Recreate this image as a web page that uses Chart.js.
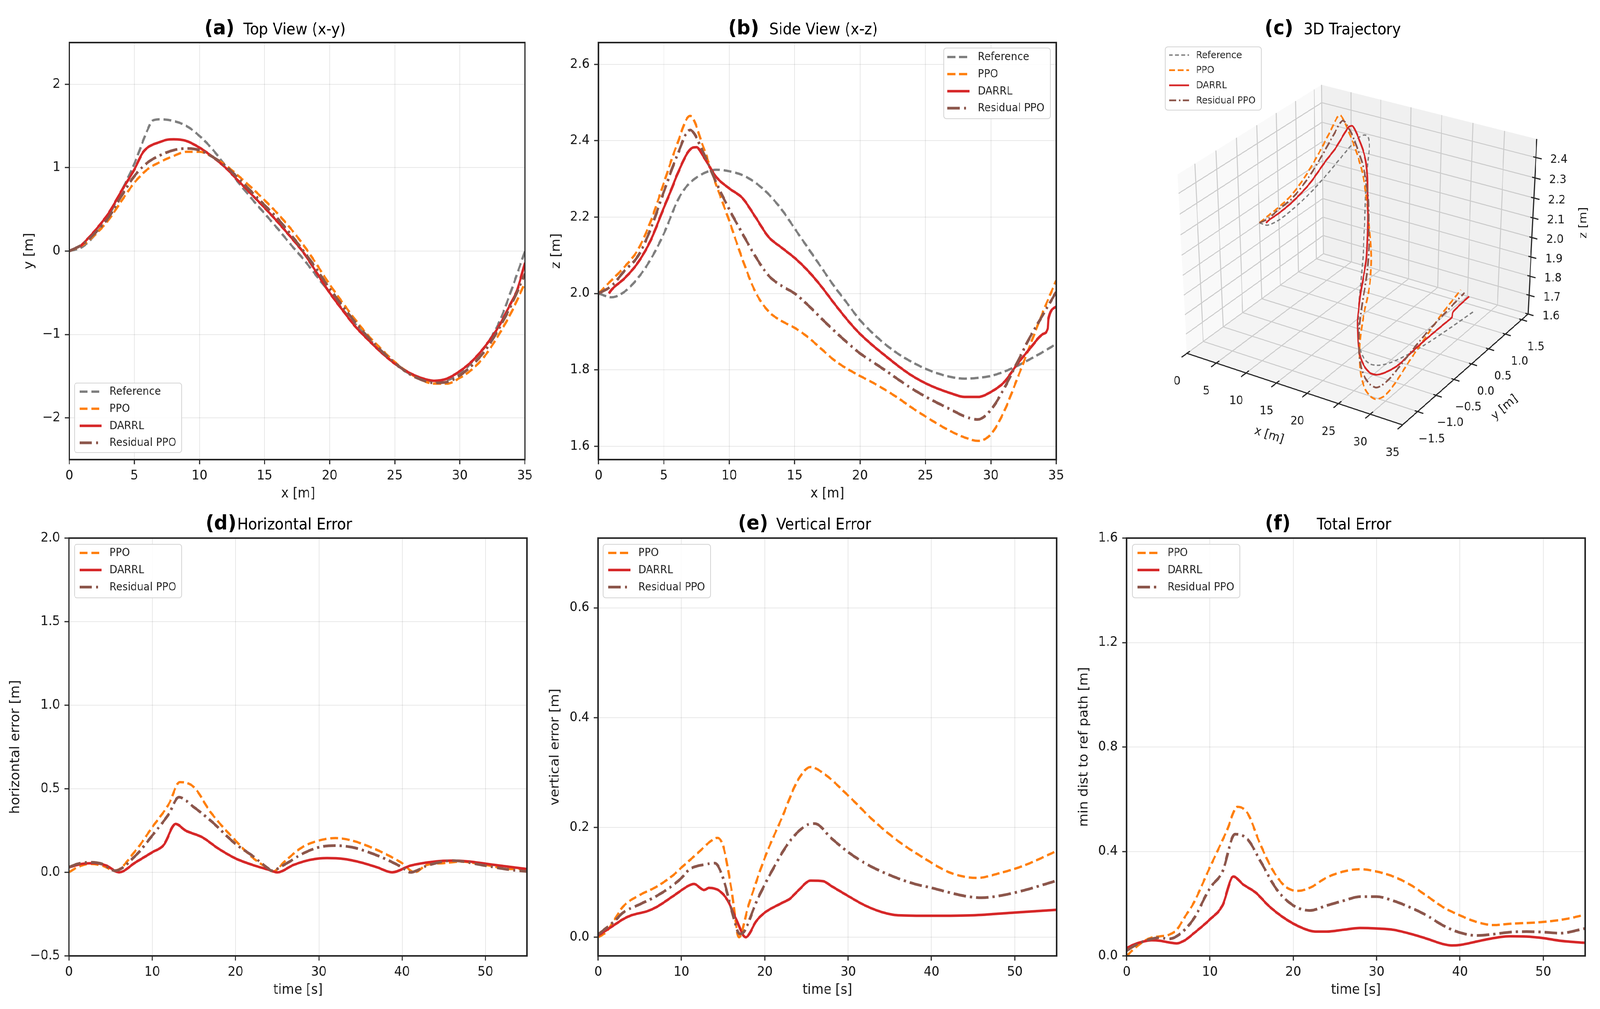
<!DOCTYPE html>
<html><head><meta charset="utf-8"><title>Trajectory tracking comparison</title>
<script src="https://cdn.jsdelivr.net/npm/chart.js@4.4.1/dist/chart.umd.min.js"></script>
<style>
html,body{margin:0;padding:0;background:#fff;overflow:hidden}
#wrap{position:absolute;left:0;top:0;width:4384px;height:2584px;background:#fff;overflow:hidden;transform-origin:0 0}
canvas{position:absolute;display:block}
</style></head><body><div id="wrap">
<canvas id="pa"></canvas><canvas id="pb"></canvas><canvas id="pc"></canvas>
<canvas id="pd"></canvas><canvas id="pe"></canvas><canvas id="pf"></canvas>
</div>
<script>
// ---------------- DATA ----------------
// Trajectories: x [m], y [m], z [m]
const refX = [0,1,2,3,4,5,6,6.4,7,8,9,10,11,12,13,14,15,16,17,18,19,20,21,22,23,24,25,26,27,28,29,30,31,32,33,34,35];
const refY = [0,0.05,0.2,0.42,0.72,1.05,1.45,1.565,1.58,1.56,1.5,1.38,1.22,1.02,0.82,0.63,0.45,0.27,0.08,-0.1,-0.3,-0.5,-0.7,-0.88,-1.05,-1.21,-1.35,-1.46,-1.53,-1.565,-1.55,-1.47,-1.32,-1.13,-0.86,-0.45,0.0];
const refZ = [2.0,1.99,2.005,2.04,2.09,2.157,2.24,2.265,2.29,2.314,2.324,2.32,2.31,2.29,2.26,2.22,2.17,2.12,2.07,2.02,1.975,1.93,1.895,1.865,1.84,1.82,1.803,1.79,1.781,1.777,1.779,1.784,1.795,1.81,1.828,1.847,1.868];

const ppoX = [0,1,2,3,4,5,6,7,8,9,10,11,12,13,14,15,16,17,18,19,20,21,22,23,24,25,26,27,28,29,30,31,32,33,34,35];
const ppoY = [0,0.07,0.2,0.37,0.6,0.82,0.98,1.07,1.14,1.19,1.19,1.13,1.03,0.9,0.76,0.61,0.45,0.27,0.07,-0.16,-0.4,-0.62,-0.83,-1.02,-1.18,-1.33,-1.45,-1.54,-1.59,-1.59,-1.52,-1.41,-1.24,-1.0,-0.72,-0.38];
const ppoZ = [2.0,2.035,2.07,2.114,2.19,2.29,2.39,2.465,2.385,2.284,2.19,2.09,2.004,1.953,1.928,1.91,1.886,1.856,1.826,1.803,1.784,1.766,1.746,1.724,1.70,1.678,1.657,1.638,1.623,1.614,1.631,1.69,1.775,1.864,1.953,2.034];

const darrlX = [0.8,1,2,3,4,5,5.6,6,7,7.5,8,9,10,11,12,13,14,15,16,17,18,19,20,21,22,23,24,25,26,27,28,29,30,31,32,33,34,34.35,34.4,35];
const darrlY = [0.05,0.08,0.25,0.45,0.72,0.98,1.17,1.24,1.31,1.335,1.34,1.32,1.24,1.13,1.0,0.84,0.68,0.52,0.35,0.17,-0.02,-0.26,-0.5,-0.71,-0.91,-1.07,-1.22,-1.35,-1.45,-1.52,-1.555,-1.53,-1.44,-1.31,-1.13,-0.9,-0.6,-0.49,-0.47,-0.14];
const darrlZ = [2.0,2.01,2.04,2.08,2.14,2.225,2.275,2.31,2.377,2.383,2.36,2.305,2.275,2.25,2.2,2.148,2.12,2.093,2.06,2.02,1.975,1.932,1.894,1.863,1.835,1.808,1.784,1.765,1.75,1.738,1.729,1.729,1.742,1.767,1.814,1.856,1.894,1.908,1.932,1.966];

const resX = [0,1,2,3,4,5,6,7,8,9,10,11,12,13,14,15,16,17,18,19,20,21,22,23,24,25,26,27,28,29,30,31,32,33,34,35];
const resY = [0,0.08,0.22,0.4,0.66,0.9,1.06,1.15,1.21,1.23,1.21,1.13,1.02,0.87,0.71,0.55,0.39,0.2,0.0,-0.22,-0.45,-0.66,-0.86,-1.04,-1.2,-1.34,-1.46,-1.54,-1.58,-1.57,-1.49,-1.36,-1.18,-0.93,-0.63,-0.27];
const resZ = [2.0,2.02,2.06,2.097,2.17,2.267,2.36,2.428,2.37,2.29,2.22,2.157,2.097,2.047,2.02,2.0,1.97,1.936,1.903,1.872,1.843,1.82,1.797,1.773,1.75,1.73,1.712,1.695,1.678,1.67,1.695,1.75,1.818,1.886,1.945,2.004];

// Horizontal error vs time
const hPpoT = [0,1,2.5,4,5.5,8,10,12,13.3,15,17,20,22,24,24.5,26,28,30,32,34,36,38,40,41.5,43,45,47,50,53,55];
const hPpoV = [0.0,0.03,0.05,0.04,0.01,0.13,0.27,0.41,0.54,0.51,0.36,0.19,0.09,0.02,0.005,0.07,0.15,0.19,0.205,0.19,0.155,0.11,0.055,0.0,0.045,0.055,0.064,0.045,0.02,0.02];
const hDarrlT = [0,1.5,3,4.5,6,8,10,11.4,12.8,14,16,18,20,22,24,25,27,29,31,33,35,37,38.8,41,44,46,48,51,55];
const hDarrlV = [0.03,0.05,0.055,0.04,0.0,0.06,0.12,0.165,0.29,0.25,0.21,0.14,0.083,0.045,0.015,0.0,0.045,0.075,0.085,0.08,0.06,0.03,0.0,0.04,0.065,0.07,0.065,0.045,0.02];
const hResT = [0,1,2.5,4,5.5,8,10,12,13.2,15,17,20,22,24,24.3,26,28,30,32,34,36,38,40,41,43,46,50,53,55];
const hResV = [0.03,0.05,0.06,0.05,0.01,0.1,0.22,0.35,0.45,0.39,0.31,0.17,0.1,0.02,0.01,0.05,0.11,0.15,0.16,0.15,0.12,0.08,0.03,0.0,0.04,0.07,0.04,0.015,0.005];

// Vertical error vs time
const vPpoT = [0,1,2,3,5,7,9,10,12,13.5,14.3,15,16,16.9,18,20,22,24,25.5,27,30,33,36,39,42,44,45.5,48,51,55];
const vPpoV = [0.0,0.01,0.033,0.056,0.077,0.092,0.113,0.127,0.154,0.175,0.181,0.166,0.086,0.0,0.056,0.145,0.216,0.287,0.31,0.299,0.258,0.213,0.175,0.145,0.119,0.11,0.108,0.116,0.13,0.157];
const vDarrlT = [0,2,3,4,6,7,9,11,11.5,12.7,13.3,14.5,15.5,16.5,17.7,19,20,22,23,24,25.5,27,28,30,32,34,36,40,45,50,55];
const vDarrlV = [0.003,0.023,0.033,0.04,0.048,0.055,0.075,0.095,0.097,0.086,0.09,0.085,0.068,0.035,0.0,0.03,0.045,0.062,0.07,0.085,0.103,0.102,0.093,0.075,0.058,0.046,0.04,0.039,0.04,0.045,0.05];
const vResT = [0,2,3,5,7,9,10,11,13,14,15,16,17,17.5,19,21,23,25,26,28,30,32,35,38,40,42,44,46,48,51,55];
const vResV = [0.005,0.03,0.045,0.06,0.075,0.095,0.108,0.124,0.133,0.135,0.107,0.05,0.006,0.01,0.065,0.125,0.175,0.204,0.207,0.18,0.155,0.135,0.113,0.097,0.09,0.082,0.075,0.072,0.075,0.085,0.103];

// Total error (min distance to reference path) vs time
const fPpoT = [0,1,2,3,4,5,6,7,8,10,12,13.3,14.5,16,17.5,19,20.5,22,24,26,28,30,32,34,36,38,40,42,44,46,50,53,55];
const fPpoV = [0.0,0.03,0.055,0.07,0.075,0.08,0.1,0.15,0.2,0.34,0.478,0.571,0.547,0.43,0.33,0.267,0.249,0.261,0.3,0.323,0.332,0.323,0.304,0.273,0.23,0.186,0.155,0.13,0.118,0.123,0.13,0.143,0.158];
const fDarrlT = [0,1,2,3,4,5,6,7,8,10,11.5,12.8,14,15.5,17,19,21,22.7,24,26,28,30,32,34,36,38,39,40,42,44,46,48,50,52,55];
const fDarrlV = [0.03,0.045,0.055,0.06,0.058,0.052,0.048,0.06,0.085,0.14,0.193,0.304,0.273,0.242,0.193,0.143,0.108,0.093,0.093,0.1,0.107,0.105,0.1,0.085,0.066,0.045,0.04,0.042,0.055,0.068,0.075,0.074,0.068,0.058,0.05];
const fResT = [0,1,2,3,4,5,6,8,10,11.5,13,14.5,16,18,20,22,24,26,28,30,32,34,36,38,40,42,44,46,48,50,52,55];
const fResV = [0.02,0.04,0.055,0.065,0.07,0.065,0.075,0.14,0.26,0.323,0.466,0.447,0.366,0.255,0.193,0.174,0.193,0.211,0.227,0.227,0.211,0.186,0.155,0.116,0.089,0.078,0.083,0.091,0.093,0.091,0.087,0.105];

// Tick values and labels
const xPosTicks = [0,5,10,15,20,25,30,35];
const xPosLabels = ['0','5','10','15','20','25','30','35'];
const yTopTicks = [-2,-1,0,1,2];
const yTopLabels = ['\u22122','\u22121','0','1','2'];
const zSideTicks = [1.6,1.8,2.0,2.2,2.4,2.6];
const zSideLabels = ['1.6','1.8','2.0','2.2','2.4','2.6'];
const timeTicks = [0,10,20,30,40,50];
const timeLabels = ['0','10','20','30','40','50'];
const hErrTicks = [-0.5,0,0.5,1.0,1.5,2.0];
const hErrLabels = ['\u22120.5','0.0','0.5','1.0','1.5','2.0'];
const vErrTicks = [0,0.2,0.4,0.6];
const vErrLabels = ['0.0','0.2','0.4','0.6'];
const tErrTicks = [0,0.4,0.8,1.2,1.6];
const tErrLabels = ['0.0','0.4','0.8','1.2','1.6'];
const x3Ticks = [0,5,10,15,20,25,30,35];
const x3Labels = ['0','5','10','15','20','25','30','35'];
const y3Ticks = [-1.5,-1.0,-0.5,0,0.5,1.0,1.5];
const y3Labels = ['\u22121.5','\u22121.0','\u22120.5','0.0','0.5','1.0','1.5'];
const z3Ticks = [1.6,1.7,1.8,1.9,2.0,2.1,2.2,2.3,2.4];
const z3Labels = ['1.6','1.7','1.8','1.9','2.0','2.1','2.2','2.3','2.4'];

// ---------------- PAGE FIT (fill the viewport like the 4384x2584 figure) ----------------
(function(){
  const sx = (window.innerWidth || 4384)/4384, sy = (window.innerHeight || 2584)/2584;
  document.getElementById('wrap').style.transform = 'scale(' + sx + ',' + sy + ')';
})();

// ---------------- STYLE / LAYOUT ----------------
const FONT = "'DejaVu Sans', 'Liberation Sans', sans-serif";
const INK = '#262626';
const S2 = {
  ref:   {label:'Reference',    color:'#7f7f7f', width:6,   dash:[22,10]},
  ppo:   {label:'PPO',          color:'#ff7f0e', width:6,   dash:[22,10]},
  darrl: {label:'DARRL',        color:'#d62728', width:6.5, dash:[]},
  res:   {label:'Residual PPO', color:'#8c564b', width:7,   dash:[34,11,6,11]}
};
const S3 = {
  ref:   {label:'Reference',    color:'#7f7f7f', width:3.5, dash:[10,7]},
  ppo:   {label:'PPO',          color:'#ff7f0e', width:4.5, dash:[16,8]},
  darrl: {label:'DARRL',        color:'#d62728', width:4.5, dash:[]},
  res:   {label:'Residual PPO', color:'#8c564b', width:4.5, dash:[20,7,4,7]}
};

function roundRect(ctx,x,y,w,h,r){
  ctx.beginPath();
  ctx.moveTo(x+r,y); ctx.lineTo(x+w-r,y); ctx.arcTo(x+w,y,x+w,y+r,r);
  ctx.lineTo(x+w,y+h-r); ctx.arcTo(x+w,y+h,x+w-r,y+h,r);
  ctx.lineTo(x+r,y+h); ctx.arcTo(x,y+h,x,y+h-r,r);
  ctx.lineTo(x,y+r); ctx.arcTo(x,y,x+r,y,r); ctx.closePath();
}
function drawLegend(ctx,L,items){
  ctx.save();
  roundRect(ctx,L.x,L.y,L.w,L.h,7);
  ctx.fillStyle='rgba(255,255,255,0.85)'; ctx.fill();
  ctx.lineWidth=2; ctx.strokeStyle='#d4d4d4'; ctx.stroke();
  ctx.font=L.font+'px '+FONT; ctx.textBaseline='middle'; ctx.textAlign='left';
  items.forEach((it,i)=>{
    const y=L.y+L.first+i*L.step;
    ctx.beginPath(); ctx.setLineDash(it.dash); ctx.lineWidth=it.width; ctx.strokeStyle=it.color; ctx.lineCap='butt';
    ctx.moveTo(L.x+L.lx,y); ctx.lineTo(L.x+L.lx+L.len,y); ctx.stroke();
    ctx.setLineDash([]);
    ctx.fillStyle=INK; ctx.fillText(it.label,L.x+L.tx,y+1);
  });
  ctx.restore();
}
function drawTitle(ctx,t){
  ctx.save(); ctx.fillStyle='#000'; ctx.textAlign='left'; ctx.textBaseline='alphabetic';
  ctx.font='bold 52px '+FONT; ctx.fillText(t.bold,t.bx,t.y);
  ctx.font='40px '+FONT; ctx.fillText(t.text,t.tx,t.y);
  ctx.restore();
}
function setupCanvas(p){
  const cv=document.getElementById(p.canvas);
  cv.width=p.w; cv.height=p.h;
  cv.style.left=p.left+'px'; cv.style.top=p.top+'px';
  cv.style.width=p.w+'px'; cv.style.height=p.h+'px';
  return cv;
}

// ---------------- 2D PANELS ----------------
function axisCfg(p,which){
  const isX = which==='x';
  const ax = isX ? p.xAxis : p.yAxis;
  return {
    type:'linear', min:ax.min, max:ax.max,
    afterBuildTicks:(s)=>{ s.ticks = ax.ticks.map(v=>({value:v})); },
    afterFit:(s)=>{ if(isX){ s.height = p.top + p.h - p.plot.b; } else { s.width = p.plot.l - p.left; } },
    ticks:{ callback:(v,i)=>ax.labels[i], font:{family:FONT,size:34}, color:'#1a1a1a',
            padding: isX?10:12, autoSkip:false, maxRotation:0, minRotation:0, includeBounds:false },
    grid:{ color:'rgba(0,0,0,0.09)', lineWidth:2, drawTicks:true, tickLength:12, tickColor:INK, tickWidth:3 },
    border:{ display:true, color:INK, width:4 }
  };
}
function make2D(p){
  const cv=setupCanvas(p);
  const n=p.series.length;
  const datasets=p.series.map((s,i)=>({
    label:s.style.label,
    data:s.x.map((xv,k)=>({x:xv,y:s.y[k]})),
    showLine:true, fill:false, pointRadius:0, pointHoverRadius:0,
    borderColor:s.style.color, borderWidth:s.style.width, borderDash:s.style.dash,
    borderCapStyle:'butt', borderJoinStyle:'round',
    cubicInterpolationMode:'monotone', order:n-i
  }));
  const decor={
    id:'decor_'+p.canvas,
    afterDatasetsDraw(chart){
      const a=chart.chartArea, ctx=chart.ctx;
      ctx.save(); ctx.strokeStyle=INK; ctx.lineWidth=4; ctx.setLineDash([]);
      ctx.strokeRect(a.left,a.top,a.right-a.left,a.bottom-a.top); ctx.restore();
    },
    afterDraw(chart){
      const ctx=chart.ctx;
      ctx.save(); ctx.translate(-p.left,-p.top);
      drawTitle(ctx,p.title);
      ctx.fillStyle='#1a1a1a'; ctx.font='35px '+FONT; ctx.textAlign='center'; ctx.textBaseline='middle';
      ctx.fillText(p.xLabel,(p.plot.l+p.plot.r)/2,p.plot.b+88);
      ctx.save(); ctx.translate(p.yLabelX,(p.plot.t+p.plot.b)/2); ctx.rotate(-Math.PI/2);
      ctx.fillText(p.yLabel,0,0); ctx.restore();
      drawLegend(ctx,p.legend,p.series.map(s=>s.style));
      ctx.restore();
    }
  };
  new Chart(cv,{
    type:'scatter', data:{datasets},
    options:{
      responsive:false, animation:false, devicePixelRatio:1, events:[],
      layout:{padding:{left:0, top:p.plot.t-p.top, right:p.left+p.w-p.plot.r, bottom:0}},
      plugins:{legend:{display:false}, tooltip:{enabled:false}, title:{display:false}},
      scales:{ x:axisCfg(p,'x'), y:axisCfg(p,'y') }
    },
    plugins:[decor]
  });
}

const LEG4 = {first:22, step:43.7, lx:14, len:60, tx:96, font:28};
const TOP_T = 88, BOT_T = 1356;

make2D({canvas:'pa', left:0, top:0, w:1470, h:1300, plot:{l:190,r:1444,t:109,b:1177},
  title:{bold:'(a)', text:'Top View (x-y)', bx:560, tx:667, y:TOP_T},
  xLabel:'x [m]', yLabel:'y [m]', yLabelX:81,
  xAxis:{min:0,max:35,ticks:xPosTicks,labels:xPosLabels},
  yAxis:{min:-2.5,max:2.5,ticks:yTopTicks,labels:yTopLabels},
  legend:Object.assign({x:204,y:981,w:294,h:178},LEG4),
  series:[{x:refX,y:refY,style:S2.ref},{x:ppoX,y:ppoY,style:S2.ppo},{x:darrlX,y:darrlY,style:S2.darrl},{x:resX,y:resY,style:S2.res}]
});
make2D({canvas:'pb', left:1470, top:0, w:1460, h:1300, plot:{l:1640,r:2894,t:109,b:1177},
  title:{bold:'(b)', text:'Side View (x-z)', bx:1995, tx:2108, y:TOP_T},
  xLabel:'x [m]', yLabel:'z [m]', yLabelX:1525,
  xAxis:{min:0,max:35,ticks:xPosTicks,labels:xPosLabels},
  yAxis:{min:1.565,max:2.657,ticks:zSideTicks,labels:zSideLabels},
  legend:Object.assign({x:2586,y:123,w:292,h:181},LEG4,{lx:10,tx:93,first:23}),
  series:[{x:refX,y:refZ,style:S2.ref},{x:ppoX,y:ppoZ,style:S2.ppo},{x:darrlX,y:darrlZ,style:S2.darrl},{x:resX,y:resZ,style:S2.res}]
});
make2D({canvas:'pd', left:0, top:1300, w:1470, h:1284, plot:{l:189,r:1444,t:1378,b:2448},
  title:{bold:'(d)', text:'Horizontal Error', bx:563, tx:650, y:BOT_T},
  xLabel:'time [s]', yLabel:'horizontal error [m]', yLabelX:43,
  xAxis:{min:0,max:55,ticks:timeTicks,labels:timeLabels},
  yAxis:{min:-0.5,max:2.0,ticks:hErrTicks,labels:hErrLabels},
  legend:Object.assign({x:204,y:1394,w:294,h:137},LEG4),
  series:[{x:hPpoT,y:hPpoV,style:S2.ppo},{x:hDarrlT,y:hDarrlV,style:S2.darrl},{x:hResT,y:hResV,style:S2.res}]
});
make2D({canvas:'pe', left:1470, top:1300, w:1460, h:1284, plot:{l:1639,r:2895,t:1378,b:2448},
  title:{bold:'(e)', text:'Vertical Error', bx:2022, tx:2127, y:BOT_T},
  xLabel:'time [s]', yLabel:'vertical error [m]', yLabelX:1522,
  xAxis:{min:0,max:55,ticks:timeTicks,labels:timeLabels},
  yAxis:{min:-0.034,max:0.727,ticks:vErrTicks,labels:vErrLabels},
  legend:Object.assign({x:1653,y:1394,w:294,h:137},LEG4),
  series:[{x:vPpoT,y:vPpoV,style:S2.ppo},{x:vDarrlT,y:vDarrlV,style:S2.darrl},{x:vResT,y:vResV,style:S2.res}]
});
make2D({canvas:'pf', left:2930, top:1300, w:1454, h:1284, plot:{l:3087,r:4343,t:1378,b:2448},
  title:{bold:'(f)', text:'Total Error', bx:3466, tx:3608, y:BOT_T},
  xLabel:'time [s]', yLabel:'min dist to ref path [m]', yLabelX:2971,
  xAxis:{min:0,max:55,ticks:timeTicks,labels:timeLabels},
  yAxis:{min:0,max:1.6,ticks:tErrTicks,labels:tErrLabels},
  legend:Object.assign({x:3103,y:1394,w:294,h:137},LEG4),
  series:[{x:fPpoT,y:fPpoV,style:S2.ppo},{x:fDarrlT,y:fDarrlV,style:S2.darrl},{x:fResT,y:fResV,style:S2.res}]
});

// ---------------- 3D PANEL ----------------
const X3 = [0,35], Y3 = [-1.9,1.7], Z3 = [1.6,2.49];
const VIEW = {azim:-58, elev:30, dist:10, half:[0.595,0.595,0.515], sx:5847, sy:5077, cx:3727, cy:633};
function proj(x,y,z){
  const a=VIEW.azim*Math.PI/180, e=VIEW.elev*Math.PI/180;
  const u=[-Math.sin(a),Math.cos(a),0];
  const v=[-Math.sin(e)*Math.cos(a),-Math.sin(e)*Math.sin(a),Math.cos(e)];
  const w=[Math.cos(e)*Math.cos(a),Math.cos(e)*Math.sin(a),Math.sin(e)];
  const q=[((x-X3[0])/(X3[1]-X3[0])*2-1)*VIEW.half[0],
           ((y-Y3[0])/(Y3[1]-Y3[0])*2-1)*VIEW.half[1],
           ((z-Z3[0])/(Z3[1]-Z3[0])*2-1)*VIEW.half[2]];
  const du=q[0]*u[0]+q[1]*u[1]+q[2]*u[2];
  const dv=q[0]*v[0]+q[1]*v[1]+q[2]*v[2];
  const dw=q[0]*w[0]+q[1]*w[1]+q[2]*w[2];
  const depth=VIEW.dist-dw;
  return {x:VIEW.cx+VIEW.sx*du/depth, y:VIEW.cy-VIEW.sy*dv/depth};
}
const LAY3 = {xTickOff:[-27,72], yTickOff:[39,71], zTickOff:[63,6],
              xLabOff:[-62,121], yLabOff:[100,104], zLabOff:[140,-15]};

function make3D(p){
  const cv=setupCanvas(p);
  const series=[{x:refX,y:refY,z:refZ,style:S3.ref},{x:ppoX,y:ppoY,z:ppoZ,style:S3.ppo},
                {x:darrlX,y:darrlY,z:darrlZ,style:S3.darrl},{x:resX,y:resY,z:resZ,style:S3.res}];
  const n=series.length;
  const datasets=series.map((s,i)=>({
    label:s.style.label,
    data:s.x.map((xv,k)=>{const q=proj(xv,s.y[k],s.z[k]); return {x:q.x-p.left,y:q.y-p.top};}),
    showLine:true, fill:false, pointRadius:0, pointHoverRadius:0, clip:false,
    borderColor:s.style.color, borderWidth:s.style.width, borderDash:s.style.dash,
    borderCapStyle:'butt', borderJoinStyle:'round', tension:0.3, order:n-i
  }));
  function seg(ctx,a,b){const P=proj(...a),Q=proj(...b); ctx.moveTo(P.x,P.y); ctx.lineTo(Q.x,Q.y);}
  function poly(ctx,pts,fill){ctx.beginPath(); pts.forEach((pt,i)=>{const P=proj(...pt); if(i)ctx.lineTo(P.x,P.y); else ctx.moveTo(P.x,P.y);}); ctx.closePath(); ctx.fillStyle=fill; ctx.fill();}
  const [x0,x1]=X3,[y0,y1]=Y3,[z0,z1]=Z3;
  const decor={
    id:'decor3d',
    beforeDatasetsDraw(chart){
      const ctx=chart.ctx; ctx.save(); ctx.translate(-p.left,-p.top);
      poly(ctx,[[x0,y0,z0],[x1,y0,z0],[x1,y1,z0],[x0,y1,z0]],'#f4f4f4');
      poly(ctx,[[x0,y0,z0],[x0,y1,z0],[x0,y1,z1],[x0,y0,z1]],'#f9f9f9');
      poly(ctx,[[x0,y1,z0],[x1,y1,z0],[x1,y1,z1],[x0,y1,z1]],'#f0f0f0');
      ctx.beginPath(); ctx.strokeStyle='#cbcbcb'; ctx.lineWidth=2.5;
      x3Ticks.forEach(x=>{seg(ctx,[x,y0,z0],[x,y1,z0]); seg(ctx,[x,y1,z0],[x,y1,z1]);});
      y3Ticks.forEach(y=>{seg(ctx,[x0,y,z0],[x1,y,z0]); seg(ctx,[x0,y,z0],[x0,y,z1]);});
      z3Ticks.forEach(z=>{seg(ctx,[x0,y0,z],[x0,y1,z]); seg(ctx,[x0,y1,z],[x1,y1,z]);});
      ctx.stroke();
      ctx.beginPath(); ctx.strokeStyle=INK; ctx.lineWidth=3;
      seg(ctx,[x0,y0,z0],[x1,y0,z0]); seg(ctx,[x1,y0,z0],[x1,y1,z0]); seg(ctx,[x1,y1,z0],[x1,y1,z1]);
      const xr=x1-x0, yr=y1-y0;
      x3Ticks.forEach(x=>seg(ctx,[x,y0+0.02*yr,z0],[x,y0-0.035*yr,z0]));
      y3Ticks.forEach(y=>seg(ctx,[x1-0.012*xr,y,z0],[x1+0.025*xr,y,z0]));
      z3Ticks.forEach(z=>seg(ctx,[x1-0.012*xr,y1,z],[x1+0.025*xr,y1,z]));
      ctx.stroke();
      ctx.fillStyle='#1a1a1a'; ctx.font='30px '+FONT; ctx.textAlign='center'; ctx.textBaseline='middle';
      x3Ticks.forEach((x,i)=>{const P=proj(x,y0,z0); ctx.fillText(x3Labels[i],P.x+LAY3.xTickOff[0],P.y+LAY3.xTickOff[1]);});
      y3Ticks.forEach((y,i)=>{const P=proj(x1,y,z0); ctx.fillText(y3Labels[i],P.x+LAY3.yTickOff[0],P.y+LAY3.yTickOff[1]);});
      z3Ticks.forEach((z,i)=>{const P=proj(x1,y1,z); ctx.fillText(z3Labels[i],P.x+LAY3.zTickOff[0],P.y+LAY3.zTickOff[1]);});
      ctx.font='31px '+FONT;
      const ax=(A,B)=>{const P=proj(...A),Q=proj(...B); return Math.atan2(Q.y-P.y,Q.x-P.x);};
      const lab=(text,at,off,ang)=>{const P=proj(...at); ctx.save(); ctx.translate(P.x+off[0],P.y+off[1]); ctx.rotate(ang); ctx.fillText(text,0,0); ctx.restore();};
      lab('x [m]',[(x0+x1)/2,y0,z0],LAY3.xLabOff,ax([x0,y0,z0],[x1,y0,z0]));
      lab('y [m]',[x1,(y0+y1)/2,z0],LAY3.yLabOff,ax([x1,y0,z0],[x1,y1,z0]));
      lab('z [m]',[x1,y1,(z0+z1)/2],LAY3.zLabOff,-Math.PI/2);
      ctx.restore();
    },
    afterDraw(chart){
      const ctx=chart.ctx; ctx.save(); ctx.translate(-p.left,-p.top);
      drawTitle(ctx,p.title);
      drawLegend(ctx,p.legend,series.map(s=>s.style));
      ctx.restore();
    }
  };
  new Chart(cv,{
    type:'scatter', data:{datasets},
    options:{
      responsive:false, animation:false, devicePixelRatio:1, events:[],
      layout:{padding:0},
      plugins:{legend:{display:false}, tooltip:{enabled:false}, title:{display:false}},
      scales:{ x:{type:'linear',min:0,max:p.w,display:false}, y:{type:'linear',min:0,max:p.h,reverse:true,display:false} }
    },
    plugins:[decor]
  });
}
make3D({canvas:'pc', left:2930, top:0, w:1454, h:1300,
  title:{bold:'(c)', text:'3D Trajectory', bx:3465, tx:3572, y:TOP_T},
  legend:{x:3193,y:120,w:263,h:162,first:21,step:38.7,lx:10,len:55,tx:84,font:25}
});
</script>
</body></html>
